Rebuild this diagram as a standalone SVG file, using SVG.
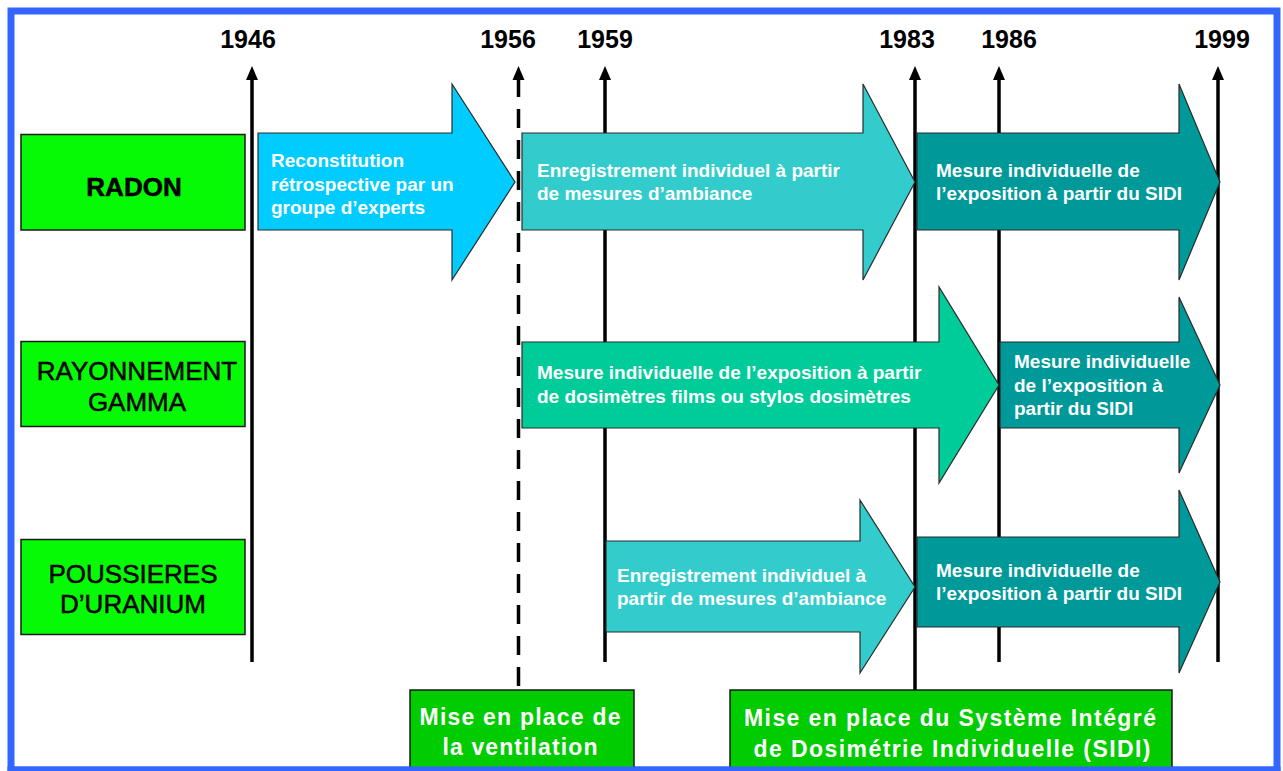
<svg xmlns="http://www.w3.org/2000/svg" width="1283" height="771" viewBox="0 0 1283 771">
<defs>
<style>
.frame{fill:#fff;stroke:#3366ff;stroke-width:7}
.lbl{fill:#06fa06;stroke:#1a1a1a;stroke-width:1.5}
.lt{font-family:"Liberation Sans",Arial,sans-serif;fill:#000;text-anchor:middle;font-size:26px;stroke:#000;stroke-width:0.5}
.yr{font-family:"Liberation Sans",Arial,sans-serif;font-weight:bold;font-size:25px;fill:#000;text-anchor:middle}
.arr{stroke:#2a2a2a;stroke-width:1.2;stroke-linejoin:miter}
.at{font-family:"Liberation Sans",Arial,sans-serif;font-weight:bold;font-size:19px;fill:#fff}
.bb{fill:#00cc00;stroke:#1a1a1a;stroke-width:1.5}
.bt{font-family:"Liberation Sans",Arial,sans-serif;font-weight:bold;font-size:23px;fill:#fff;text-anchor:middle}
.vl{stroke:#000;stroke-width:3.5;fill:none}
</style>
</defs>
<rect class="frame" x="11" y="11" width="1266" height="759"/>

<g id="years">
<text class="yr" x="248" y="48">1946</text>
<text class="yr" x="508" y="48">1956</text>
<text class="yr" x="605" y="48">1959</text>
<text class="yr" x="907" y="48">1983</text>
<text class="yr" x="1009" y="48">1986</text>
<text class="yr" x="1222" y="48">1999</text>
</g>

<g id="connectors">
<path class="vl" d="M252,662 V72"/>
<path d="M246,80 L252,66 L258,80 Z"/>
<path class="vl" d="M518.5,686 V80" stroke-dasharray="19 12"/>
<path class="vl" d="M518.5,80 V72"/>
<path d="M512.5,80 L518.5,66 L524.5,80 Z"/>
<path class="vl" d="M605,662 V72"/>
<path d="M599,80 L605,66 L611,80 Z"/>
<path class="vl" d="M915,690 V72"/>
<path d="M909,80 L915,66 L921,80 Z"/>
<path class="vl" d="M999,662 V72"/>
<path d="M993,80 L999,66 L1005,80 Z"/>
<path class="vl" d="M1218,662 V72"/>
<path d="M1212,80 L1218,66 L1224,80 Z"/>
</g>

<g id="label-radon">
<rect class="lbl" x="21" y="134.5" width="224" height="95.5"/>
<text class="lt" x="134" y="196" font-size="32" font-weight="bold" stroke-width="0">RADON</text>
</g>
<g id="label-gamma">
<rect class="lbl" x="21" y="341.5" width="224" height="85"/>
<text class="lt" x="137" y="380">RAYONNEMENT</text>
<text class="lt" x="137" y="411">GAMMA</text>
</g>
<g id="label-poussieres">
<rect class="lbl" x="21" y="539.5" width="224" height="95"/>
<text class="lt" x="133" y="583">POUSSIERES</text>
<text class="lt" x="133" y="613">D’URANIUM</text>
</g>

<g id="arrow-radon-1">
<path class="arr" fill="#00ccff" d="M258,133 H452 V84 L515,182 L452,280 V230 H258 Z"/>
<text class="at" x="271" y="167">Reconstitution</text>
<text class="at" x="271" y="191">rétrospective par un</text>
<text class="at" x="271" y="214">groupe d’experts</text>
</g>
<g id="arrow-radon-2">
<path class="arr" fill="#33cccc" d="M522,133 H863 V84 L915,182 L863,280 V230 H522 Z"/>
<text class="at" x="537" y="177">Enregistrement individuel à partir</text>
<text class="at" x="537" y="200">de mesures d’ambiance</text>
</g>
<g id="arrow-radon-3">
<path class="arr" fill="#009999" d="M917,133 H1179 V84 L1220,182 L1179,280 V230 H917 Z"/>
<text class="at" x="936" y="177">Mesure individuelle de</text>
<text class="at" x="936" y="200">l’exposition à partir du SIDI</text>
</g>

<g id="arrow-gamma-1">
<path class="arr" fill="#00cc99" d="M522,342 H939 V287 L999,385 L939,483 V428 H522 Z"/>
<text class="at" x="537" y="379">Mesure individuelle de l’exposition à partir</text>
<text class="at" x="537" y="403">de dosimètres films ou stylos dosimètres</text>
</g>
<g id="arrow-gamma-2">
<path class="arr" fill="#009999" d="M1000,342 H1179 V297 L1220,385 L1179,473 V428 H1000 Z"/>
<text class="at" x="1014" y="368">Mesure individuelle</text>
<text class="at" x="1014" y="392">de l’exposition à</text>
<text class="at" x="1014" y="415">partir du SIDI</text>
</g>

<g id="arrow-poussieres-1">
<path class="arr" fill="#33cccc" d="M606,541 H860 V500 L915,587 L860,673 V632 H606 Z"/>
<text class="at" x="617" y="582">Enregistrement individuel à</text>
<text class="at" x="617" y="605">partir de mesures d’ambiance</text>
</g>
<g id="arrow-poussieres-2">
<path class="arr" fill="#009999" d="M917,537 H1179 V490 L1220,582 L1179,673 V627 H917 Z"/>
<text class="at" x="936" y="577">Mesure individuelle de</text>
<text class="at" x="936" y="600">l’exposition à partir du SIDI</text>
</g>

<g id="box-ventilation">
<rect class="bb" x="410" y="690" width="224" height="82"/>
<text class="bt" x="520" y="725" textLength="201" lengthAdjust="spacing">Mise en place de</text>
<text class="bt" x="520" y="755" textLength="155" lengthAdjust="spacing">la ventilation</text>
</g>
<g id="box-sidi">
<rect class="bb" x="730" y="690" width="442" height="82"/>
<text class="bt" x="950" y="726" textLength="412" lengthAdjust="spacing">Mise en place du Système Intégré</text>
<text class="bt" x="952" y="757" textLength="397" lengthAdjust="spacing">de Dosimétrie Individuelle (SIDI)</text>
</g>
<rect x="7.5" y="766.5" width="1273" height="7" fill="#3366ff"/>
</svg>
